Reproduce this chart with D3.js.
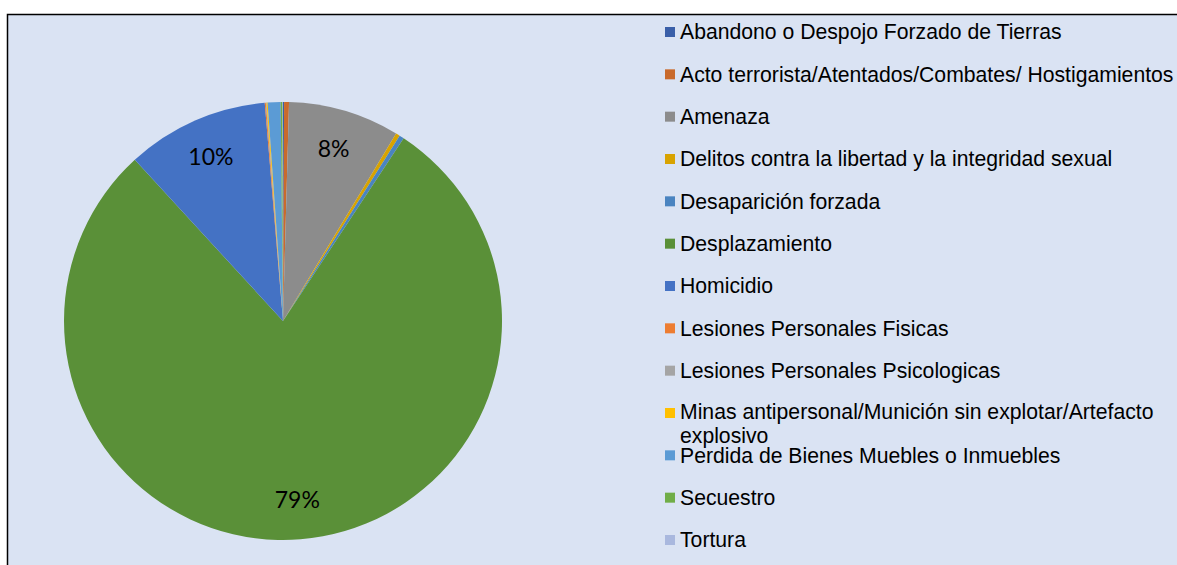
<!DOCTYPE html>
<html>
<head>
<meta charset="utf-8">
<script src="https://cdn.jsdelivr.net/npm/d3@7"></script>
<style>
  body { margin: 0; background: #ffffff; }
  svg { display: block; }
</style>
</head>
<body>
<div id="chart"></div>
<script>
// data
const categories = [
    "Abandono o Despojo Forzado de Tierras",
    "Acto terrorista/Atentados/Combates/ Hostigamientos",
    "Amenaza",
    "Delitos contra la libertad y la integridad sexual",
    "Desaparición forzada",
    "Desplazamiento",
    "Homicidio",
    "Lesiones Personales Fisicas",
    "Lesiones Personales Psicologicas",
    "Minas antipersonal/Munición sin explotar/Artefacto explosivo",
    "Perdida de Bienes Muebles o Inmuebles",
    "Secuestro",
    "Tortura"
];
const shares = [0.08, 0.36, 8.2, 0.3, 0.35, 78.9, 10.5, 0.08, 0.05, 0.08, 0.95, 0.14, 0.03];
const colors = [
    "#3A5FA8", "#C96A2C", "#8C8C8C", "#D8A300", "#4A84C0", "#5A9038", "#4472C4",
    "#ED7D31", "#A5A5A5", "#FFC000", "#5B9BD5", "#70AD47", "#A9B8DE"
];
const labelMin = 5;

// constants
const width = 1177, height = 565;
const cx = 283, cy = 321, radius = 219;

const svg = d3.select("#chart").append("svg")
    .attr("width", width)
    .attr("height", height);

// chart area with border
svg.append("rect")
    .attr("x", 7.5).attr("y", 14.5)
    .attr("width", 1185).attr("height", 570)
    .attr("fill", "#DAE3F3")
    .attr("stroke", "#000")
    .attr("stroke-width", 1.5);

const data = categories.map((c, i) => ({ name: c, value: shares[i], color: colors[i] }));
const total = d3.sum(shares);

const pie = d3.pie().sort(null).value(d => d.value);
const arc = d3.arc().innerRadius(0).outerRadius(radius);
const labelArc = d3.arc().innerRadius(radius * 0.82).outerRadius(radius * 0.82);

const g = svg.append("g").attr("transform", `translate(${cx},${cy})`);
const arcs = pie(data);

g.selectAll("path.slice")
    .data(arcs)
    .enter().append("path")
    .attr("class", "slice")
    .attr("d", arc)
    .attr("fill", d => d.data.color);

g.selectAll("text.pct")
    .data(arcs.filter(d => d.data.value >= labelMin))
    .enter().append("text")
    .attr("class", "pct")
    .attr("transform", d => `translate(${labelArc.centroid(d)})`)
    .attr("text-anchor", "middle")
    .attr("dy", "0.35em")
    .attr("font-family", "Lato, 'Open Sans', sans-serif")
    .attr("font-size", 23)
    .attr("fill", "#000")
    .text(d => Math.round(d.data.value / total * 100) + "%");

// legend
const rowY = d3.scaleLinear().domain([0, categories.length - 1]).range([32, 540]);
const legend = svg.append("g").attr("class", "legend");
const item = legend.selectAll("g")
    .data(data)
    .enter().append("g")
    .attr("transform", (d, i) => `translate(665,${rowY(i)})`);

item.append("rect")
    .attr("x", 0).attr("y", -5)
    .attr("width", 10).attr("height", 10)
    .attr("fill", d => d.color);

item.each(function(d) {
    const t = d3.select(this).append("text")
        .attr("x", 15)
        .attr("font-family", "'Liberation Sans', Arial, sans-serif")
        .attr("font-size", 21.2)
        .attr("fill", "#000");
    if (d.name.startsWith("Minas")) {
        t.append("tspan").attr("x", 15).attr("y", -1).attr("dy", "0.35em")
            .text("Minas antipersonal/Munición sin explotar/Artefacto");
        t.append("tspan").attr("x", 15).attr("y", 23).attr("dy", "0.35em")
            .text("explosivo");
    } else {
        t.attr("dy", "0.35em").text(d.name);
    }
});
</script>
</body>
</html>
